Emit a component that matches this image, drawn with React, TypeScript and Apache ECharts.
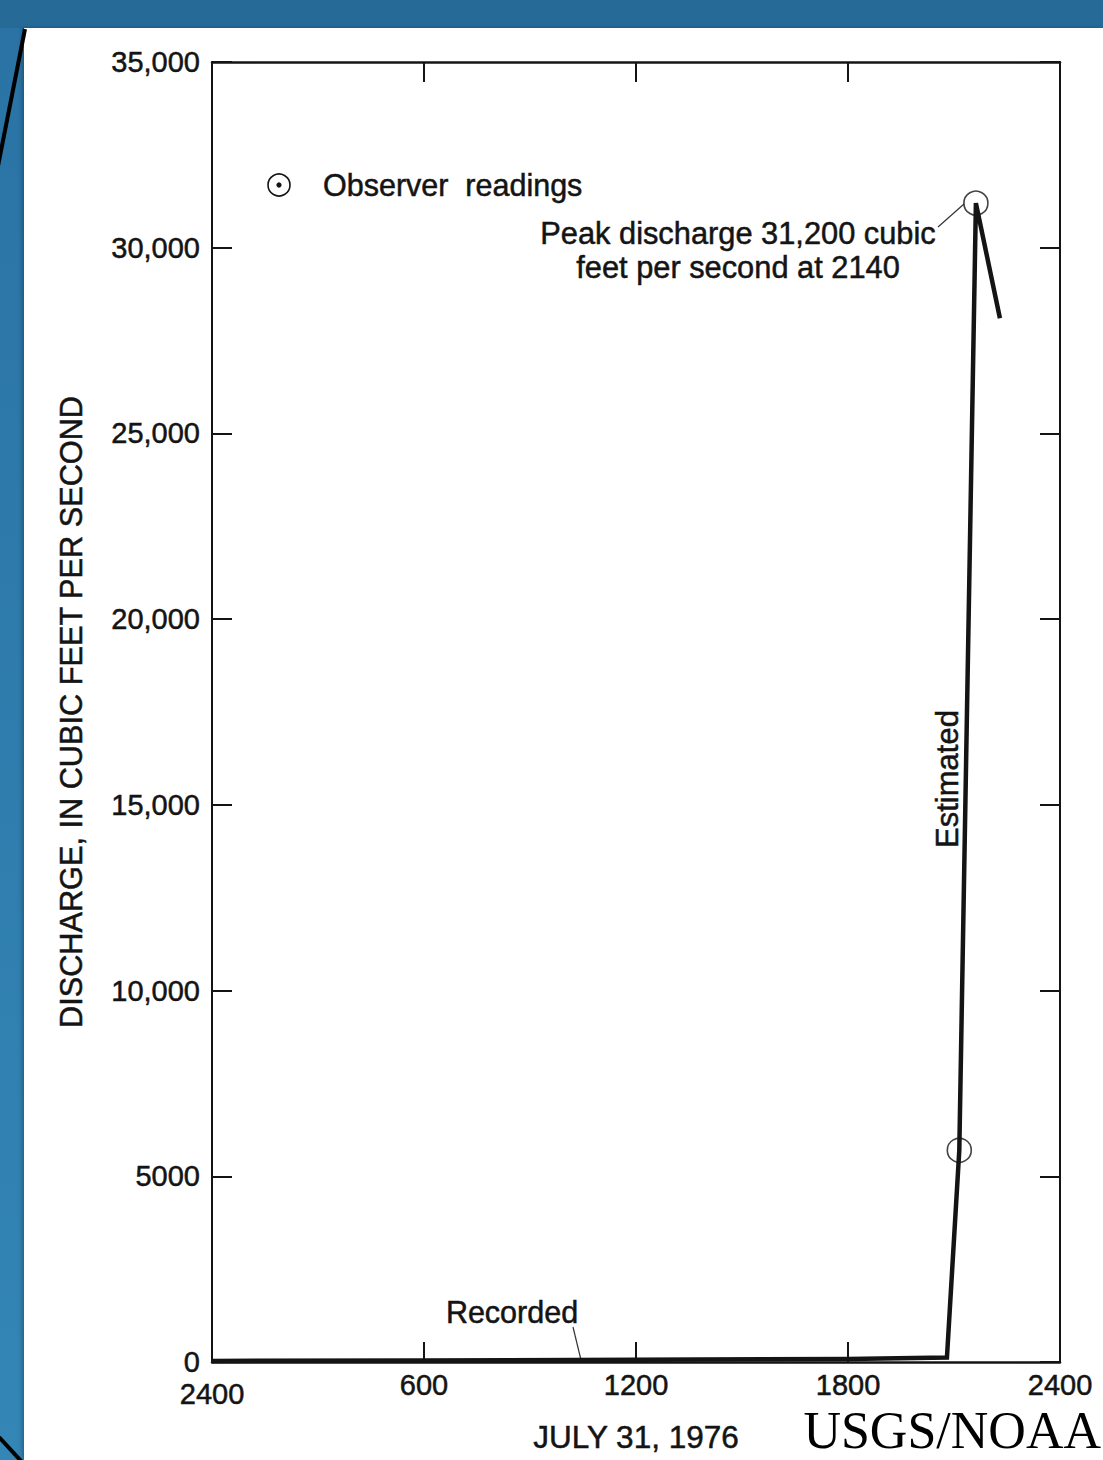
import React, { useEffect, useRef } from "react";
import * as echarts from "echarts";

// Hydrograph, July 31, 1976 (hours after midnight, discharge in cubic feet per second)
const hours = [0, 6, 12, 18, 20.8, 21.15, 21.62, 22.3];
const discharge = [30, 40, 60, 80, 120, 5700, 31200, 28100];

// Observer readings
const readingHours = [21.15, 21.62];
const readingDischarge = [5700, 31200];

// Axis ticks
const xTickValues = [0, 6, 12, 18, 24];
const xTickLabels = ["2400", "600", "1200", "1800", "2400"];
const yTickValues = [0, 5000, 10000, 15000, 20000, 25000, 30000, 35000];
const yTickLabels = ["0", "5000", "10,000", "15,000", "20,000", "25,000", "30,000", "35,000"];

const FONT = "'Liberation Sans', Arial, Helvetica, sans-serif";
const INK = "#141414";
const BOLDEN = { textBorderColor: INK, textBorderWidth: 0.5 };

export default function App() {
  const ref = useRef<HTMLDivElement>(null);

  useEffect(() => {
    const chart = echarts.init(ref.current!, null, { renderer: "svg" });
    const xLabel = (v: number) => {
      const i = xTickValues.indexOf(v);
      if (i < 0) return "";
      return i === 0 ? "{low|" + xTickLabels[i] + "}" : xTickLabels[i];
    };
    const yLabel = (v: number) => {
      const i = yTickValues.indexOf(v);
      return i < 0 ? "" : yTickLabels[i];
    };
    const textBase = { fontFamily: FONT, fill: INK, stroke: INK, lineWidth: 0.5 };
    chart.setOption({
      animation: false,
      backgroundColor: "transparent",
      grid: { left: 212, top: 62, right: 43, bottom: 98, containLabel: false },
      xAxis: [
        {
          type: "value",
          position: "bottom",
          min: 0,
          max: 24,
          interval: 6,
          name: "JULY 31, 1976",
          nameLocation: "middle",
          nameGap: 59,
          nameTextStyle: { fontFamily: FONT, fontSize: 31.5, color: INK, ...BOLDEN },
          axisLine: { show: true, onZero: false, lineStyle: { color: INK, width: 2.5 } },
          axisTick: { show: true, inside: true, length: 20, lineStyle: { color: INK, width: 2 } },
          axisLabel: {
            show: true,
            margin: 9,
            fontFamily: FONT,
            fontSize: 29,
            lineHeight: 28,
            color: INK,
            ...BOLDEN,
            showMinLabel: true,
            showMaxLabel: true,
            formatter: xLabel,
            rich: {
              low: { padding: [18, 0, 0, 0], fontFamily: FONT, fontSize: 29, lineHeight: 28, color: INK, ...BOLDEN },
            },
          },
          splitLine: { show: false },
        },
        {
          type: "value",
          position: "top",
          min: 0,
          max: 24,
          interval: 6,
          axisLine: { show: true, onZero: false, lineStyle: { color: INK, width: 2.5 } },
          axisTick: { show: true, inside: true, length: 20, lineStyle: { color: INK, width: 2 } },
          axisLabel: { show: false },
          splitLine: { show: false },
        },
      ],
      yAxis: [
        {
          type: "value",
          position: "left",
          min: 0,
          max: 35000,
          interval: 5000,
          name: "DISCHARGE, IN CUBIC FEET PER SECOND",
          nameLocation: "middle",
          nameGap: 125,
          nameRotate: 90,
          nameTextStyle: { fontFamily: FONT, fontSize: 30.7, color: INK, ...BOLDEN },
          axisLine: { show: true, onZero: false, lineStyle: { color: INK, width: 2 } },
          axisTick: { show: true, inside: true, length: 20, lineStyle: { color: INK, width: 2 } },
          axisLabel: { show: true, margin: 12, fontFamily: FONT, fontSize: 29, color: INK, ...BOLDEN, formatter: yLabel },
          splitLine: { show: false },
        },
        {
          type: "value",
          position: "right",
          min: 0,
          max: 35000,
          interval: 5000,
          axisLine: { show: true, onZero: false, lineStyle: { color: INK, width: 2 } },
          axisTick: { show: true, inside: true, length: 20, lineStyle: { color: INK, width: 2 } },
          axisLabel: { show: false },
          splitLine: { show: false },
        },
      ],
      series: [
        {
          name: "Discharge",
          type: "line",
          xAxisIndex: 0,
          yAxisIndex: 0,
          data: hours.map((h, i) => [h, discharge[i]]),
          showSymbol: false,
          symbol: "none",
          lineStyle: { color: INK, width: 4.5, join: "miter" },
          z: 5,
        },
        {
          name: "Observer readings",
          type: "scatter",
          xAxisIndex: 0,
          yAxisIndex: 0,
          data: readingHours.map((h, i) => [h, readingDischarge[i]]),
          symbol: "circle",
          symbolSize: 24,
          itemStyle: { color: "transparent", borderColor: INK, borderWidth: 1.6 },
          z: 6,
        },
      ],
      graphic: [
        // page decoration lines
        { type: "line", shape: { x1: 25, y1: 29, x2: -2, y2: 166 }, style: { stroke: "#000", lineWidth: 4 } },
        { type: "line", shape: { x1: -2, y1: 1436, x2: 22, y2: 1462 }, style: { stroke: "#000", lineWidth: 4 } },
        // legend
        { type: "circle", shape: { cx: 279, cy: 185, r: 11 }, style: { fill: "none", stroke: INK, lineWidth: 1.6 } },
        { type: "circle", shape: { cx: 279, cy: 185, r: 2.6 }, style: { fill: INK } },
        {
          type: "text",
          x: 323,
          y: 185,
          style: { ...textBase, text: "Observer  readings", fontSize: 30.5, textAlign: "left", textVerticalAlign: "middle" },
        },
        // peak annotation
        {
          type: "text",
          x: 738,
          y: 250,
          style: {
            ...textBase,
            text: "Peak discharge 31,200 cubic\nfeet per second at 2140",
            fontSize: 30.8,
            lineHeight: 34,
            textAlign: "center",
            textVerticalAlign: "middle",
          },
        },
        { type: "line", shape: { x1: 938, y1: 227, x2: 964, y2: 204 }, style: { stroke: "#333", lineWidth: 1.2 } },
        // estimated label
        {
          type: "text",
          x: 947,
          y: 779,
          rotation: Math.PI / 2,
          style: { ...textBase, text: "Estimated", fontSize: 31, textAlign: "center", textVerticalAlign: "middle" },
        },
        // recorded label
        {
          type: "text",
          x: 512,
          y: 1312,
          style: { ...textBase, text: "Recorded", fontSize: 30.5, textAlign: "center", textVerticalAlign: "middle" },
        },
        { type: "line", shape: { x1: 573, y1: 1327, x2: 581, y2: 1360 }, style: { stroke: "#333", lineWidth: 1.2 } },
        // credit
        {
          type: "text",
          x: 1101,
          y: 1430,
          style: {
            text: "USGS/NOAA",
            fontFamily: "'Liberation Serif', 'Times New Roman', serif",
            fontSize: 52,
            lineHeight: 46,
            fill: "#000",
            textAlign: "right",
            textVerticalAlign: "middle",
          },
        },
      ],
    });
    return () => chart.dispose();
  }, []);

  return (
    <div
      style={{
        position: "absolute",
        left: 0,
        top: 0,
        width: 1103,
        height: 1460,
        overflow: "hidden",
        background: "linear-gradient(to bottom, #2a73a4, #3386b6)",
      }}
    >
      <div style={{ position: "absolute", left: 0, top: 0, width: 1103, height: 28, background: "#266b98" }} />
      <div
        style={{
          position: "absolute",
          left: 24,
          top: 28,
          width: 1079,
          height: 1432,
          background: "#ffffff",
          boxShadow: "-2px 0 4px rgba(0,0,0,0.25)",
        }}
      />
      <div ref={ref} style={{ position: "absolute", left: 0, top: 0, width: 1103, height: 1460 }} />
    </div>
  );
}
